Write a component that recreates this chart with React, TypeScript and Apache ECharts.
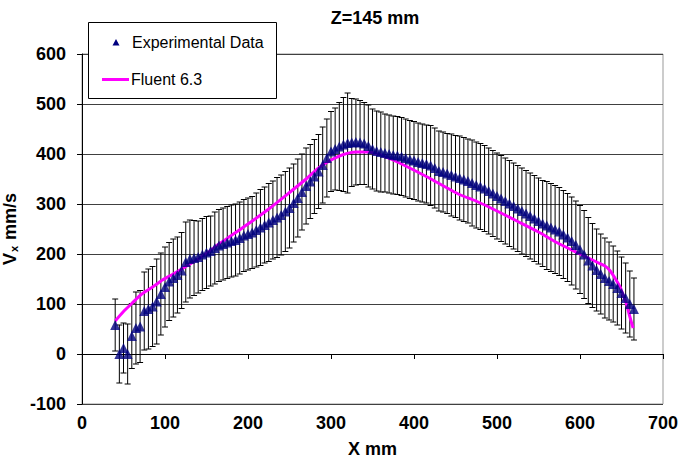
import React, { useEffect, useRef } from "react";
import * as echarts from "echarts";

const FONT = "'Liberation Sans', Arial, sans-serif";

const X_TICKS = [0, 100, 200, 300, 400, 500, 600, 700];
const Y_TICKS = [-100, 0, 100, 200, 300, 400, 500, 600];

// Experimental data positions (mm)
const EXP_X = [
  40, 45, 50, 55, 60, 65, 70, 75, 80, 85, 90, 95, 100, 105, 110, 115, 120, 125, 130, 135,
  140, 145, 150, 155, 160, 165, 170, 175, 180, 185, 190, 195, 200, 205, 210, 215, 220, 225, 230, 235,
  240, 245, 250, 255, 260, 265, 270, 275, 280, 285, 290, 295, 300, 305, 310, 315, 320, 325, 330, 335,
  340, 345, 350, 355, 360, 365, 370, 375, 380, 385, 390, 395, 400, 405, 410, 415, 420, 425, 430, 435,
  440, 445, 450, 455, 460, 465, 470, 475, 480, 485, 490, 495, 500, 505, 510, 515, 520, 525, 530, 535,
  540, 545, 550, 555, 560, 565, 570, 575, 580, 585, 590, 595, 600, 605, 610, 615, 620, 625, 630, 635,
  640, 645, 650, 655, 660, 665,
];

// Experimental Vx (mm/s)
const EXP_VX = [
  58, 0, 12, 0, 36, 52, 55, 86, 90, 95, 105, 120, 134, 145, 152, 158, 167, 184, 190, 192,
  194, 199, 203, 206, 212, 217, 220, 223, 226, 228, 232, 237, 240, 243, 248, 253, 258, 263, 268, 273,
  278, 285, 292, 302, 312, 324, 336, 345, 355, 365, 378, 392, 405, 410, 415, 419, 422, 423, 424, 423,
  421, 416, 410, 406, 404, 402, 400, 398, 397, 395, 392, 389, 387, 384, 382, 380, 377, 372, 366, 364,
  361, 358, 355, 352, 349, 346, 342, 338, 335, 331, 326, 321, 316, 311, 306, 301, 296, 291, 286, 281,
  276, 271, 266, 261, 257, 253, 249, 245, 239, 233, 226, 218, 209, 199, 187, 177, 168, 160, 152, 146,
  140, 132, 122, 112, 100, 90,
];

// Error bar half-widths (mm/s)
const EXP_ERR = [
  52, 58, 50, 60, 65, 72, 72, 78, 80, 80, 85, 82, 80, 78, 78, 76, 76, 80, 78, 75,
  72, 72, 72, 70, 72, 72, 72, 72, 72, 72, 72, 72, 72, 72, 74, 76, 76, 78, 78, 80,
  80, 80, 80, 78, 78, 76, 76, 74, 74, 74, 76, 78, 80, 82, 88, 94, 100, 88, 86, 84,
  82, 82, 80, 80, 80, 78, 78, 78, 78, 78, 78, 78, 78, 78, 78, 78, 80, 80, 80, 80,
  80, 82, 82, 84, 84, 84, 86, 86, 86, 86, 86, 86, 86, 86, 86, 86, 86, 86, 86, 86,
  86, 86, 86, 86, 88, 88, 88, 88, 88, 88, 88, 88, 88, 88, 86, 84, 82, 80, 80, 78,
  76, 74, 72, 70, 66, 62,
];

// Fluent 6.3 simulation
const SIM_X = [
  40, 50, 60, 72, 85, 97, 110, 129, 150, 165, 180, 200, 225, 250, 270, 285, 300, 315, 330, 345,
  360, 372, 390, 416, 428, 440, 456, 476, 500, 524, 550, 572, 600, 620, 630, 636, 642, 648, 652, 656,
  660, 664,
];
const SIM_VX = [
  66, 85, 101, 120, 134, 148, 160, 179, 201, 220, 237, 260, 290, 323, 350, 372, 388, 399, 404, 404,
  398, 390, 376, 354, 343, 332, 318, 305, 286, 266, 244, 223, 200, 184, 176, 167, 152, 135, 118, 100,
  75, 52,
];

export default function App() {
  const ref = useRef<HTMLDivElement>(null);

  useEffect(() => {
    if (!ref.current) return;
    const chart = echarts.init(ref.current, null, { renderer: "svg" });

    const errData = EXP_X.map((x, i) => [x, EXP_VX[i] - EXP_ERR[i], EXP_VX[i] + EXP_ERR[i]]);
    const expData = EXP_X.map((x, i) => [x, EXP_VX[i]]);
    const simData = SIM_X.map((x, i) => [x, SIM_VX[i]]);

    const boldText = { fontFamily: FONT, fontWeight: "bold" as const, fontSize: 18, color: "#000" };

    chart.setOption({
      animation: false,
      backgroundColor: "#fff",
      title: {
        text: "Z=145 mm",
        left: 370,
        top: 4,
        textAlign: "center",
        textStyle: { fontFamily: FONT, fontWeight: "bold", fontSize: 18, color: "#000" },
      },
      grid: {
        left: 82,
        right: 23,
        top: 54,
        bottom: 65,
        containLabel: false,
        outerBoundsMode: "none",
        show: true,
        borderColor: "#999",
        borderWidth: 1,
      },
      xAxis: [
        {
          type: "value",
          min: X_TICKS[0],
          max: X_TICKS[X_TICKS.length - 1],
          interval: 100,
          position: "bottom",
          axisLine: { show: true, onZero: true, lineStyle: { color: "#000", width: 1 } },
          axisTick: { show: true, inside: false, length: 5, lineStyle: { color: "#000" } },
          axisLabel: { show: false },
          splitLine: { show: false },
        },
        {
          type: "value",
          min: X_TICKS[0],
          max: X_TICKS[X_TICKS.length - 1],
          interval: 100,
          position: "bottom",
          axisLine: { show: false, onZero: false },
          axisTick: { show: false },
          axisLabel: { show: true, margin: 10, ...boldText },
          splitLine: { show: false },
          name: "X mm",
          nameLocation: "middle",
          nameGap: 36,
          nameTextStyle: boldText,
        },
      ],
      yAxis: {
        type: "value",
        min: Y_TICKS[0],
        max: Y_TICKS[Y_TICKS.length - 1],
        interval: 100,
        axisLine: { show: true, lineStyle: { color: "#000", width: 1 } },
        axisTick: { show: true, inside: false, length: 5, lineStyle: { color: "#000" } },
        axisLabel: { margin: 16, ...boldText },
        splitLine: { show: true, lineStyle: { color: "#404040", width: 1 } },
        name: "{v|V}{s|x}{v| mm/s}",
        nameLocation: "middle",
        nameRotate: 90,
        nameGap: 57,
        nameTextStyle: {
          ...boldText,
          rich: {
            v: { fontFamily: FONT, fontWeight: "bold", fontSize: 18, color: "#000" },
            s: { fontFamily: FONT, fontWeight: "bold", fontSize: 11, color: "#000", verticalAlign: "bottom", padding: [6, 1, 0, 1] },
          },
        },
      },
      series: [
        {
          type: "custom",
          name: "err",
          xAxisIndex: 0,
          yAxisIndex: 0,
          z: 1,
          silent: true,
          encode: { x: 0, y: [1, 2] },
          data: errData,
          renderItem: (params: any, api: any) => {
            const x = api.value(0);
            const lo = api.coord([x, api.value(1)]);
            const hi = api.coord([x, api.value(2)]);
            const hw = 3;
            const st = { stroke: "#000", lineWidth: 1 };
            return {
              type: "group",
              children: [
                { type: "line", shape: { x1: hi[0], y1: hi[1], x2: lo[0], y2: lo[1] }, style: st },
                { type: "line", shape: { x1: hi[0] - hw, y1: hi[1], x2: hi[0] + hw, y2: hi[1] }, style: st },
                { type: "line", shape: { x1: lo[0] - hw, y1: lo[1], x2: lo[0] + hw, y2: lo[1] }, style: st },
              ],
            };
          },
        },
        {
          type: "line",
          name: "Fluent 6.3",
          xAxisIndex: 0,
          yAxisIndex: 0,
          z: 2,
          data: simData,
          symbol: "none",
          showSymbol: false,
          smooth: 0.25,
          lineStyle: { color: "#FF00FF", width: 3 },
          itemStyle: { color: "#FF00FF" },
        },
        {
          type: "scatter",
          name: "Experimental Data",
          xAxisIndex: 0,
          yAxisIndex: 0,
          z: 3,
          data: expData,
          symbol: "triangle",
          symbolSize: 10,
          itemStyle: { color: "#000080" },
        },
      ],
      graphic: [
        {
          type: "rect",
          z: 100,
          shape: { x: 88.5, y: 22.5, width: 188, height: 76 },
          style: { fill: "#fff", stroke: "#000", lineWidth: 1 },
        },
        {
          type: "polygon",
          z: 101,
          shape: { points: [[116, 39], [112.5, 45.5], [119.5, 45.5]] },
          style: { fill: "#000080" },
        },
        {
          type: "text",
          z: 101,
          x: 132,
          y: 42,
          style: {
            text: "Experimental Data",
            fontFamily: FONT,
            fontSize: 16,
            fill: "#000",
            verticalAlign: "middle",
            align: "left",
          },
        },
        {
          type: "line",
          z: 101,
          shape: { x1: 102, y1: 79.5, x2: 129, y2: 79.5 },
          style: { stroke: "#FF00FF", lineWidth: 3 },
        },
        {
          type: "text",
          z: 101,
          x: 131,
          y: 79,
          style: {
            text: "Fluent 6.3",
            fontFamily: FONT,
            fontSize: 16,
            fill: "#000",
            verticalAlign: "middle",
            align: "left",
          },
        },
      ],
    });

    return () => chart.dispose();
  }, []);

  return (
    <div
      ref={ref}
      style={{ position: "absolute", left: 0, top: 0, width: 686, height: 469, background: "#fff" }}
    />
  );
}
